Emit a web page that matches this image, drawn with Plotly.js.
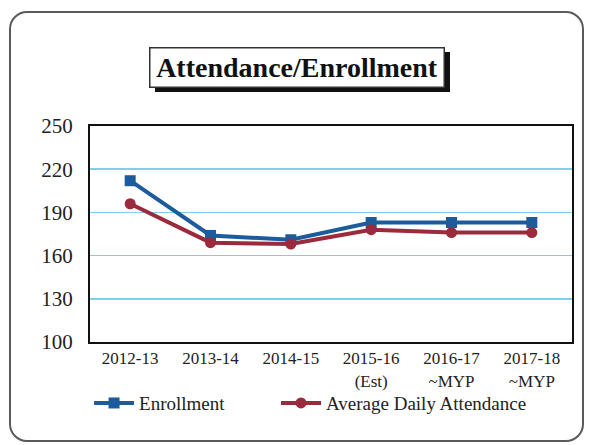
<!DOCTYPE html>
<html>
<head>
<meta charset="utf-8">
<script src="https://cdn.plot.ly/plotly-3.0.1.min.js"></script>
<style>
  html, body { margin: 0; padding: 0; background: #ffffff; }
  #wrap { position: relative; width: 591px; height: 445px; }
  #chart { width: 591px; height: 445px; }
  #frame { position: absolute; left: 9px; top: 11px; width: 571px; height: 427px;
           border: 2px solid #5a5a5a; border-radius: 18px; pointer-events: none; }
</style>
</head>
<body>
<div id="wrap">
  <div id="chart"></div>
  <div id="frame"></div>
</div>
<script>
const categories = ["2012-13", "2013-14", "2014-15", "2015-16<br>(Est)", "2016-17<br>~MYP", "2017-18<br>~MYP"];
const enrollment = [212, 174, 171, 183, 183, 183];
const attendance = [196, 169, 168, 178, 176, 176];
const yTicks = [100, 130, 160, 190, 220, 250];

const serif = "Liberation Serif";

const traces = [
  {
    x: categories, y: enrollment, name: "Enrollment", type: "scatter", mode: "lines+markers",
    line: { color: "#1d5c9c", width: 4 },
    marker: { symbol: "square", size: 11, color: "#1d5c9c" },
    legend: "legend"
  },
  {
    x: categories, y: attendance, name: "Average Daily Attendance", type: "scatter", mode: "lines+markers",
    line: { color: "#9b2a3c", width: 4 },
    marker: { symbol: "circle", size: 11, color: "#9b2a3c" },
    legend: "legend2"
  }
];

const legendCommon = {
  orientation: "h", y: -0.195, xanchor: "left", yanchor: "top",
  font: { family: serif, size: 19, color: "#222" },
  itemwidth: 40, bgcolor: "rgba(0,0,0,0)"
};

const layout = {
  width: 591, height: 445,
  margin: { l: 90, r: 19, t: 126, b: 103 },
  paper_bgcolor: "#ffffff", plot_bgcolor: "#ffffff",
  showlegend: true,
  font: { family: serif, color: "#222", size: 14 },
  xaxis: {
    type: "category", range: [-0.5, 5.5],
    showgrid: false, zeroline: false,
    showline: true, mirror: true, linecolor: "#111", linewidth: 2,
    ticks: "outside", ticklen: 0, tickfont: { family: serif, size: 17, color: "#222" },
    fixedrange: true
  },
  yaxis: {
    range: [100, 250], tickvals: yTicks,
    showgrid: true, gridcolor: "#7fcfe6", gridwidth: 1.5,
    zeroline: false, showline: true, mirror: true, linecolor: "#111", linewidth: 2,
    ticks: "", tickfont: { family: serif, size: 21, color: "#222" },
    ticklabelstandoff: 11,
    fixedrange: true
  },
  legend: Object.assign({}, legendCommon, { x: -0.002 }),
  legend2: Object.assign({}, legendCommon, { x: (276 - 90) / 482 }),
  shapes: [
    { type: "rect", xref: "paper", yref: "paper",
      x0: (155 - 90) / 482, x1: (450 - 90) / 482,
      y0: (342 - 92) / 216, y1: (342 - 52) / 216,
      fillcolor: "#111", line: { width: 0 } }
  ],
  annotations: [
    { xref: "paper", yref: "paper", x: (297 - 90) / 482, y: (342 - 67) / 216,
      text: "<b>Attendance/Enrollment</b>", showarrow: false,
      font: { family: serif, size: 28, color: "#111" },
      bgcolor: "#ffffff", bordercolor: "#333", borderwidth: 1.5,
      width: 291, height: 36, borderpad: 1, xanchor: "center", yanchor: "middle" }
  ]
};

Plotly.newPlot("chart", traces, layout, { displayModeBar: false, staticPlot: true });
</script>
</body>
</html>
